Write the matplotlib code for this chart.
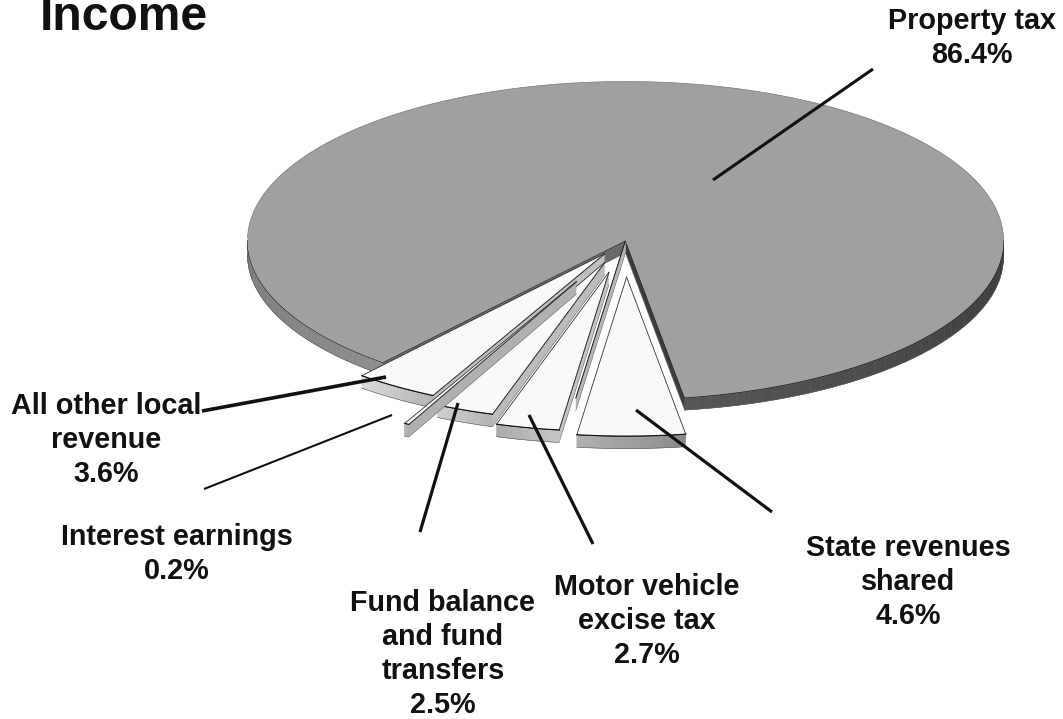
import numpy as np
import matplotlib
matplotlib.use("Agg")
import matplotlib.pyplot as plt
from matplotlib.patches import Polygon
from matplotlib.colors import to_rgb

# ---- data -------------------------------------------------------------
categories = ["Property tax", "All other local revenue", "Interest earnings",
              "Fund balance and fund transfers", "Motor vehicle excise tax",
              "State revenues shared"]
shares = [86.4, 3.6, 0.2, 2.5, 2.7, 4.6]
explode = [0.0, 0.10, 0.29, 0.148, 0.205, 0.23]
label_texts = ["Property tax\n86.4%", "All other local\nrevenue\n3.6%",
               "Interest earnings\n0.2%", "Fund balance\nand fund\ntransfers\n2.5%",
               "Motor vehicle\nexcise tax\n2.7%", "State revenues\nshared\n4.6%"]

# ---- layout / style ----------------------------------------------------
W, H = 1063, 719
CX, CY, RX, RY, T = 625.5, 240.5, 378.0, 159.0, 12.5
START = -81.0
TOP_MAIN, TOP_SLICE = "#a0a09e", "#f8faf9"
RIM = {1: ("#dcdcdc", "#b2b2b2"), 2: ("#bdbdbd", "#b0b0b0"),
       3: ("#cfcfcf", "#b4b4b4"), 4: ("#a9a9a9", "#c4c4c4"),
       5: ("#b0b0b0", "#8a8a8a")}
WALL = {1: "#c0c0c0", 2: "#b0b0b0", 3: "#bcbcbc", 4: "#c4c4c4"}
label_pos = [(972, 38), (106, 440), (177, 554), (443, 654), (647, 621), (908, 582)]
leaders = [((873, 69), (713, 180), 2.2), ((202, 411), (386, 377), 2.6),
           ((204, 489), (392, 415), 1.5), ((420, 532), (458, 403), 2.3),
           ((593, 544), (529, 415), 2.3), ((772, 512), (636, 410), 2.3)]

plt.rcParams["font.family"] = ["Liberation Sans", "DejaVu Sans"]
fig = plt.figure(figsize=(W / 100, H / 100), dpi=100)
ax = fig.add_axes([0, 0, 1, 1])
ax.set_xlim(0, W)
ax.set_ylim(H, 0)
ax.axis("off")


def pt(theta, r=1.0, e=0.0, mid=None):
    """Screen point on the tilted disc for angle theta (deg), radius r, exploded by e along mid."""
    x = CX + RX * r * np.cos(np.radians(theta))
    y = CY - RY * r * np.sin(np.radians(theta))
    if mid is not None:
        x += RX * e * np.cos(np.radians(mid))
        y -= RY * e * np.sin(np.radians(mid))
    return np.array([x, y])


def poly(points, fc, ec="none", lw=0.0, z=1):
    ax.add_patch(Polygon(np.array(points), closed=True, facecolor=fc,
                         edgecolor=ec, linewidth=lw, zorder=z, joinstyle="miter"))


def rim(a0, a1, c0, c1, e=0.0, mid=None, z=1, t0=T, t1=T):
    """Outer side of a slice, drawn in short quads to carry a shading ramp."""
    c0, c1 = np.array(to_rgb(c0)), np.array(to_rgb(c1))
    angs = np.linspace(a0, a1, 41)
    ts = np.linspace(t0, t1, 41)
    for i in range(40):
        p, q = pt(angs[i], 1, e, mid), pt(angs[i + 1], 1, e, mid)
        f = (i + 0.5) / 40
        col = tuple(c0 + (c1 - c0) * f)
        poly([p, q, q + [0, ts[i + 1]], p + [0, ts[i]]], col, col, 0.4, z)
    arc = np.array([pt(a, 1, e, mid) for a in angs])
    ax.plot(arc[:, 0], arc[:, 1], color="#111111", lw=0.7, zorder=z + 0.1)
    low = arc + np.column_stack([np.zeros(41), ts])
    ax.plot(low[:, 0], low[:, 1], color="#555555", lw=0.4, zorder=z + 0.1)


def wall(theta, e, mid, color, z, ec="#222222"):
    a = pt(theta, 0, e, mid)
    b = pt(theta, 1, e, mid)
    poly([a, b, b + [0, T], a + [0, T]], color, "none", 0, z)
    ax.plot(*zip(a, b), color=ec, lw=0.7, zorder=z + 0.05)
    ax.plot(*zip(a + [0, T], b + [0, T]), color="#666666", lw=0.4, zorder=z + 0.05)


# slice boundaries from the shares
spans = np.array(shares) * 3.6
edges = START + np.concatenate([[0], np.cumsum(spans)])

# ---- main slice --------------------------------------------------------
a0, a1 = edges[0], edges[1]
rim(a0, 0, "#565656", "#3a3a3a", z=1, t0=T, t1=T + 4)
rim(180, a1, "#7a7a7a", "#8e8e8e", z=1, t0=T + 2, t1=T)
angs = np.linspace(a0, a1, 300)
poly([pt(0, 0)] + [pt(a) for a in angs], TOP_MAIN, z=2)
arc = np.array([pt(a) for a in angs if np.sin(np.radians(a)) >= 0])
ax.plot(arc[:, 0], arc[:, 1], color="#777777", lw=0.5, zorder=2.1)
# cut faces of the main slice
wall(a1, 0, None, "#6a6a6a", 1.5, "#111111")
wall(a0, 0, None, "#3c3c3c", 1.5, "#111111")
# inner face left behind at the motor / state boundary
wall(edges[5], 0, None, "#b6b6b6", 1.6, "#111111")

# ---- exploded slices ---------------------------------------------------
order = [1, 3, 2, 4, 5]
for n, i in enumerate(order):
    a, b = edges[i], edges[i + 1]
    mid = (a + b) / 2
    e = explode[i]
    z = 3 + n
    if i in WALL:
        wall(b, e, mid, WALL[i], z)
    rim(a, b, RIM[i][0], RIM[i][1], e, mid, z + 0.1)
    ang = np.linspace(a, b, 40)
    poly([pt(a, 0, e, mid)] + [pt(t, 1, e, mid) for t in ang], TOP_SLICE, z=z + 0.3)
    ap = pt(a, 0, e, mid)
    ax.plot(*zip(ap, pt(a, 1, e, mid)), color="#333333", lw=0.6, zorder=z + 0.4)
    ax.plot(*zip(ap, pt(b, 1, e, mid)), color="#333333", lw=0.6, zorder=z + 0.4)
    arc = np.array([pt(t, 1, e, mid) for t in ang])
    ax.plot(arc[:, 0], arc[:, 1], color="#111111", lw=0.8, zorder=z + 0.4)

# ---- leaders and text --------------------------------------------------
for (p, q, lw) in leaders:
    ax.plot([p[0], q[0]], [p[1], q[1]], color="#111111", lw=lw, zorder=20,
            solid_capstyle="butt")
for txt, (x, y) in zip(label_texts, label_pos):
    ax.text(x, y, txt, ha="center", va="center", fontsize=20.7, fontweight="bold",
            color="#111111", linespacing=1.27, zorder=21)
ax.text(40, 30, "Income", ha="left", va="baseline", fontsize=34.6,
        fontweight="bold", color="#111111", zorder=21)

fig.savefig("out.png", dpi=100, facecolor="white")
